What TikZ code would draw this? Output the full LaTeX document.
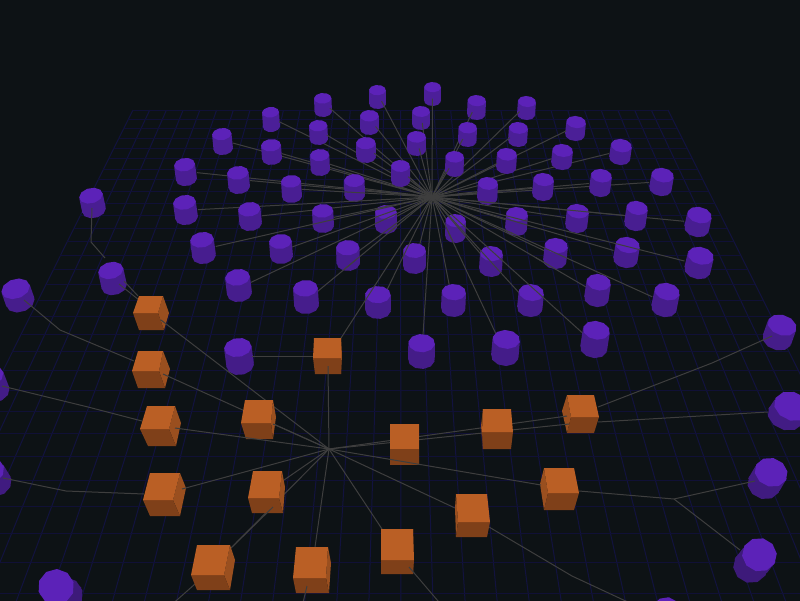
\documentclass[tikz,border=0pt]{standalone}
\usetikzlibrary{calc}
\definecolor{bgc}{HTML}{0D1215}
\definecolor{gridc}{HTML}{101036}
\definecolor{gridv}{HTML}{12123F}
\definecolor{edgec}{HTML}{3E3E3E}
\definecolor{cyltop}{HTML}{5C22B8}
\definecolor{cylfar}{HTML}{4C1F99}
\definecolor{cylnear}{HTML}{3D1A7A}
\definecolor{cubetop}{HTML}{BA5F25}
\definecolor{cubefront}{HTML}{7F4019}
\definecolor{cubeside}{HTML}{9A4F1F}
\tikzset{
  gridline/.style={draw=gridc,line width=0.9pt},
  gridcol/.style={draw=gridv,line width=1pt},
  link/.style={draw=edgec,line width=1pt},
}
% cylinder from its extents: name, x0, x1, y0, y1
\newcommand{\cylshape}[5]{%
  \pgfmathsetmacro\cylCx{(#2+#3)/2}%
  \pgfmathsetmacro\cylCy{(#4+#5)/2}%
  \pgfmathsetmacro\cylTan{(\cylCx-400)/(1100-\cylCy)}%
  \pgfmathsetmacro\cylLean{0.3*(#5-#4)*\cylTan}%
  \pgfmathsetmacro\cylR{(#3-#2-abs(\cylLean))/2}%
  \pgfmathsetmacro\cylK{max(0.58+0.0003*\cylCy,0.68+0.0013*(\cylCy-350))}%
  \pgfmathsetmacro\cylRy{\cylR*\cylK}%
  \pgfmathsetmacro\cylAng{0.7*atan(\cylTan)}%
  \pgfmathsetmacro\cylTx{\cylCx+\cylLean/2}%
  \pgfmathsetmacro\cylTy{#4+\cylRy}%
  \pgfmathsetmacro\cylBx{\cylCx-\cylLean/2}%
  \pgfmathsetmacro\cylBy{#5-\cylRy}%
  \pgfmathtruncatemacro\cylPct{min(100,max(0,(\cylCy-100)/4.6))}%
  \colorlet{cylbody}{cylnear!\cylPct!cylfar}%
  \pgfmathsetmacro\cylUx{\cylR*cos(\cylAng)}%
  \pgfmathsetmacro\cylUy{\cylR*sin(\cylAng)}%
  \pgfmathsetmacro\cylVx{-\cylRy*sin(\cylAng)}%
  \pgfmathsetmacro\cylVy{\cylRy*cos(\cylAng)}%
  \fill[cylbody] plot[samples at={0,36,...,324},variable=\t]
     ({\cylBx+\cylUx*cos(\t+8)+\cylVx*sin(\t+8)},{\cylBy+\cylUy*cos(\t+8)+\cylVy*sin(\t+8)}) -- cycle;
  \fill[cylbody] ({\cylTx+\cylUx},{\cylTy+\cylUy}) -- ({\cylBx+\cylUx},{\cylBy+\cylUy})
     -- ({\cylBx-\cylUx},{\cylBy-\cylUy}) -- ({\cylTx-\cylUx},{\cylTy-\cylUy}) -- cycle;
  \fill[cyltop] plot[samples at={0,36,...,324},variable=\t]
     ({\cylTx+\cylUx*cos(\t+8)+\cylVx*sin(\t+8)},{\cylTy+\cylUy*cos(\t+8)+\cylVy*sin(\t+8)}) -- cycle;
}
% anchor on the cylinder, facing the hub
\newcommand{\cylanchor}[5]{%
  \pgfmathsetmacro\cylCx{(#2+#3)/2}%
  \pgfmathsetmacro\cylCy{(#4+#5)/2}%
  \pgfmathsetmacro\cylN{veclen(432-\cylCx,197-\cylCy)}%
  \pgfmathsetmacro\cylR{(#3-#2)/2}%
  \pgfmathsetmacro\cylRy{\cylR*0.55}%
  \coordinate (#1) at ({\cylCx+\cylR*(432-\cylCx)/\cylN},{\cylCy+\cylRy*(197-\cylCy)/\cylN});
}
\newcommand{\cylfront}[5]{\cylshape{#1}{#2}{#3}{#4}{#5}\cylanchor{#1}{#2}{#3}{#4}{#5}\draw[link] (hubA) -- (#1);}
\newcommand{\cylback}[5]{\cylanchor{#1}{#2}{#3}{#4}{#5}\draw[link] (hubA) -- (#1);\cylshape{#1}{#2}{#3}{#4}{#5}}
% cube: top A B C D, front D C F E, side on the right B C F G
\newcommand{\cubeR}[8]{%
  \coordinate (#1) at (#2);
  \fill[cubeside] (#3) -- (#4) -- (#7) -- (#8) -- cycle;
  \fill[cubefront] (#5) -- (#4) -- (#7) -- (#6) -- cycle;
  \fill[cubetop] (#2) -- (#3) -- (#4) -- (#5) -- cycle;
}
% cube with the side on the left: A D E G
\newcommand{\cubeL}[8]{%
  \coordinate (#1) at (#2);
  \fill[cubeside] (#2) -- (#5) -- (#6) -- (#8) -- cycle;
  \fill[cubefront] (#5) -- (#4) -- (#7) -- (#6) -- cycle;
  \fill[cubetop] (#2) -- (#3) -- (#4) -- (#5) -- cycle;
}
\begin{document}
\begin{tikzpicture}[x=1pt,y=-1pt]
\useasboundingbox (0,0) rectangle (800,600);
\clip (-5,-5) rectangle (805,605);
\fill[bgc] (-5,-5) rectangle (805,605);
% floor grid
\foreach \i in {0,...,32}{
  \pgfmathsetmacro\gx{133+16.71875*\i}
  \pgfmathsetmacro\gz{400+(\gx-400)*1.99}
  \draw[gridcol] (\gx,110) -- (\gz,640);
}
\foreach \i in {0,...,29}{
  \pgfmathsetmacro\gq{1/(0.982+0.0305*\i)}
  \pgfmathsetmacro\gy{1000*\gq-425}
  \pgfmathsetmacro\gl{400-0.5*(\gy+425)}
  \pgfmathsetmacro\gr{400+0.5*(\gy+425)}
  \draw[gridline] (\gl,\gy) -- (\gr,\gy);
}
\coordinate (hubA) at (432,197);
\coordinate (hubB) at (329,449);
% far cylinders of the hub
\foreach \n/\a/\b/\c/\d in {
  a1/424/441/82/106, a2/369/386/85/109, a3/314/332/93/117, a26/467/486/95/120,
  a25/517/536/96/120, a27/412/430/106/130, a4/262/280/107/132, a28/360/379/110/135,
  a24/565/586/116/141, a29/309/328/120/145, a42/508/528/122/147, a43/458/477/122/147,
  a5/212/233/128/155, a44/407/426/131/156, a45/356/376/137/163, a30/261/282/139/165,
  a23/609/632/139/165, a41/551/573/144/170, a54/496/517/148/174, a46/310/330/149/176,
  a55/445/464/151/177, a6/174/197/158/186, a56/391/410/160/187, a31/227/250/166/194,
  a22/649/674/168/196, a40/589/612/169/197, a57/344/365/174/202, a53/532/554/173/201,
  a47/281/302/175/203, a58/477/498/177/205}{
  \cylfront{\n}{\a}{\b}{\c}{\d}
}
% near cylinders of the hub
\foreach \n/\a/\b/\c/\d in {
  a7/173/198/195/225, a32/238/262/202/231, a21/684/712/207/237, a52/565/589/204/233,
  a49/375/397/205/234, a48/312/334/204/233, a51/505/528/207/236, a50/445/466/214/243,
  a39/624/648/201/231, a8/190/216/232/264, a33/269/293/234/264, a34/336/360/240/271,
  a35/403/426/243/274, a36/479/503/246/277, a37/543/568/238/269, a38/613/640/237/268,
  a20/684/714/247/279, a9/225/252/269/302, a18/584/611/274/307, a19/651/680/283/317,
  a10/293/319/280/314, a16/517/544/284/317, a14/441/466/284/317, a12/365/391/286/319,
  a17/580/610/321/358, a13/408/435/334/369, a15/491/520/330/366}{
  \cylback{\n}{\a}{\b}{\c}{\d}
}
% links running over the lower part of an inner cylinder
\draw[link] ($(hubA)!0.313!(a19)$) -- ($(hubA)!0.365!(a19)$);
\draw[link] ($(hubA)!0.673!(a18)$) -- ($(hubA)!0.764!(a18)$);
\draw[link] ($(hubA)!0.657!(a10)$) -- ($(hubA)!0.76!(a10)$);
\draw[link] ($(hubA)!0.283!(a10)$) -- ($(hubA)!0.374!(a10)$);
\draw[link] ($(hubA)!0.24!(a15)$) -- ($(hubA)!0.307!(a15)$);
% outer cylinders
\coordinate (w1) at (91,242);
\coordinate (w2) at (60,330);
\coordinate (w3) at (88,407);
\coordinate (w4) at (66,491);
\coordinate (w5) at (712,363);
\coordinate (w6) at (674,499);
\coordinate (w7) at (572,576);
\coordinate (p1) at (160,615);
\coordinate (p2) at (300,615);
\coordinate (p3) at (450,615);
\cylshape{b59}{79}{106}{188}{218}
\cylshape{b60}{98}{127}{262}{295}
\cylshape{b61}{1}{35}{279}{312}
\cylshape{b62}{762}{797}{315}{350}
\cylshape{b63}{767}{811}{392}{430}
\cylshape{b64}{747}{788}{458}{499}
\cylshape{b65}{733}{777}{538}{583}
\cylshape{b66}{38}{83}{569}{613}
\cylshape{b67}{-24}{10}{366}{402}
\cylshape{b68}{-26}{12}{458}{496}
\cylshape{b69}{646}{681}{597}{630}
\cylshape{a11}{224}{254}{338}{375}
% anchors on the outer cylinders
\coordinate (s59) at (92,208);
\coordinate (s60) at (105,258);
\coordinate (s60a) at (119,284);
\coordinate (s60b) at (124,281);
\coordinate (s61) at (24,300);
\coordinate (s62) at (772,336);
\coordinate (s63) at (768,412);
\coordinate (s64) at (755,481);
\coordinate (s65) at (740,550);
\coordinate (s67) at (2,386);
\coordinate (s68) at (3,478);
\coordinate (s69) at (660,617);
\coordinate (s11) at (252,356);
\draw[link] (s59) -- (w1) -- (s60);
% cube anchors
\coordinate (t1a) at (139,300);
\coordinate (t1b) at (138,296);
\coordinate (t1) at (161,320);
\coordinate (t2) at (163,374);
\coordinate (t2l) at (134,361);
\coordinate (t3) at (175,428);
\coordinate (t3l) at (142,421);
\coordinate (t4) at (182,489);
\coordinate (t4l) at (144,494);
\coordinate (t5) at (273,424);
\coordinate (t6) at (284,480);
\coordinate (t7) at (231,548);
\coordinate (t7s) at (273,507);
\coordinate (t7d) at (195,584);
\coordinate (t8) at (315,547);
\coordinate (t8d) at (307,586);
\coordinate (t9) at (328,366);
\coordinate (t9u) at (341,338);
\coordinate (t9l) at (314,356);
\coordinate (t12a) at (567,416);
\coordinate (t12b) at (569,424);
\coordinate (t12c) at (598,407);
\coordinate (t12d) at (598,422);
\coordinate (t13) at (541,485);
\coordinate (t13r) at (579,491);
\coordinate (t14) at (455,508);
\coordinate (t14r) at (489,527);
\coordinate (t15) at (382,529);
\coordinate (t15d) at (409,567);
% left cube column
\draw[link] (s60a) -- (t1a);
\draw[link] (s60b) -- (t1b);
\draw[link] (s61) -- (w2) -- (t2l);
\draw[link] (s67) -- (w3) -- (t3l);
\draw[link] (s68) -- (w4) -- (t4l);
\draw[link] (s11) -- (t9l);
\draw[link] (hubA) -- (t9u);
\draw[link] (t6) -- (hubB);
\draw[link] (t7) -- (hubB);
\draw[link] (t8) -- (hubB);
\draw[link] (t7d) -- (p1);
\draw[link] (t14) -- (hubB);
\draw[link] (t15) -- (hubB);
\cubeR{c1}{139,296}{163,296}{158,313}{133,313}{139,330}{164,330}{169,313}
\cubeR{c2}{138,351}{163,351}{159,371}{132,371}{138,388}{165,388}{170,369}
\cubeR{c3}{147,406}{175,406}{169,429}{140,429}{148,446}{176,446}{181,423}
\cubeR{c4}{150,473}{180,473}{173,500}{143,500}{150,516}{180,516}{186,488}
\draw[link] (t1) -- (hubB);
\draw[link] (t2) -- (hubB);
\draw[link] (t4) -- (hubB);
\cubeR{c5}{245,400}{273,400}{271,423}{241,423}{246,439}{273,439}{276,417}
\draw[link] (t5) -- (hubB);
\draw[link] (t3) -- (hubB);
\cubeR{c6}{253,471}{282,471}{279,498}{248,498}{252,513}{283,513}{285,487}
\draw[link] (t7s) -- (t7);
\cubeR{c7}{197,545}{230,545}{224,575}{191,575}{197,590}{230,590}{235,560}
\cubeR{c8}{296,547}{328,547}{326,578}{293,578}{296,593}{329,593}{331,563}
\draw[link] (t8d) -- (p2);
\cubeR{c9}{314,338}{341,338}{341,358}{313,358}{315,374}{341,374}{342,355}
\draw[link] (t9) -- (hubB);
% right cubes
\cubeL{c12}{567,395}{594,395}{599,417}{571,417}{567,433}{594,433}{562,411}
\draw[link] (hubB) -- (t12a);
\draw[link] (hubB) -- (t12b);
\draw[link] (t12c) -- (w5) -- (s62);
\draw[link] (t12d) -- (s63);
\cubeL{c11}{483,409}{511,409}{513,432}{482,432}{483,449}{511,449}{481,426}
\cubeR{c10}{390,424}{419,424}{419,449}{390,449}{390,465}{419,465}{419,449}
\draw[link] (t13r) -- (w6) -- (s64);
\draw[link] (w6) -- (s65);
\cubeL{c13}{544,468}{574,468}{579,493}{548,493}{544,510}{574,510}{540,484}
\draw[link] (hubB) -- (t13);
\draw[link] (t14r) -- (w7) -- (s69);
\cubeL{c14}{456,494}{487,494}{490,522}{458,522}{456,537}{487,537}{455,508}
\cubeR{c15}{381,529}{413,529}{414,560}{381,560}{381,574}{413,574}{414,560}
\draw[link] (t15d) -- (p3);
\end{tikzpicture}
\end{document}
